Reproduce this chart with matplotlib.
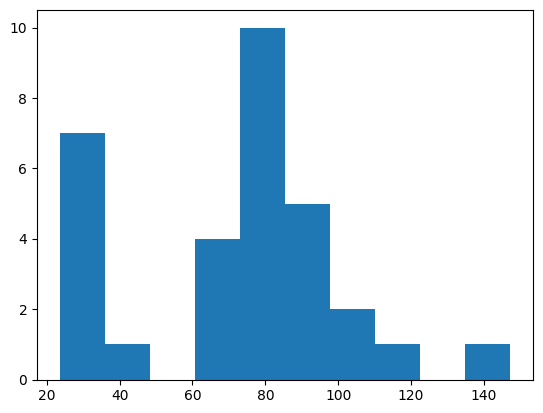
import numpy as np
import matplotlib
matplotlib.use('Agg')
import matplotlib.pyplot as plt

# histogram: 10 equal bins
lo, hi = 23.5, 147.3
counts = [7, 1, 0, 4, 10, 5, 2, 1, 0, 1]

edges = np.linspace(lo, hi, len(counts) + 1)
mids = (edges[:-1] + edges[1:]) / 2

fig = plt.figure(figsize=(5.43, 4.13), dpi=100)
ax = fig.add_axes([37 / 543, (413 - 379.6) / 413, 496 / 543, 369.6 / 413])
ax.hist(mids, bins=edges, weights=counts)
fig.savefig('out.png')
